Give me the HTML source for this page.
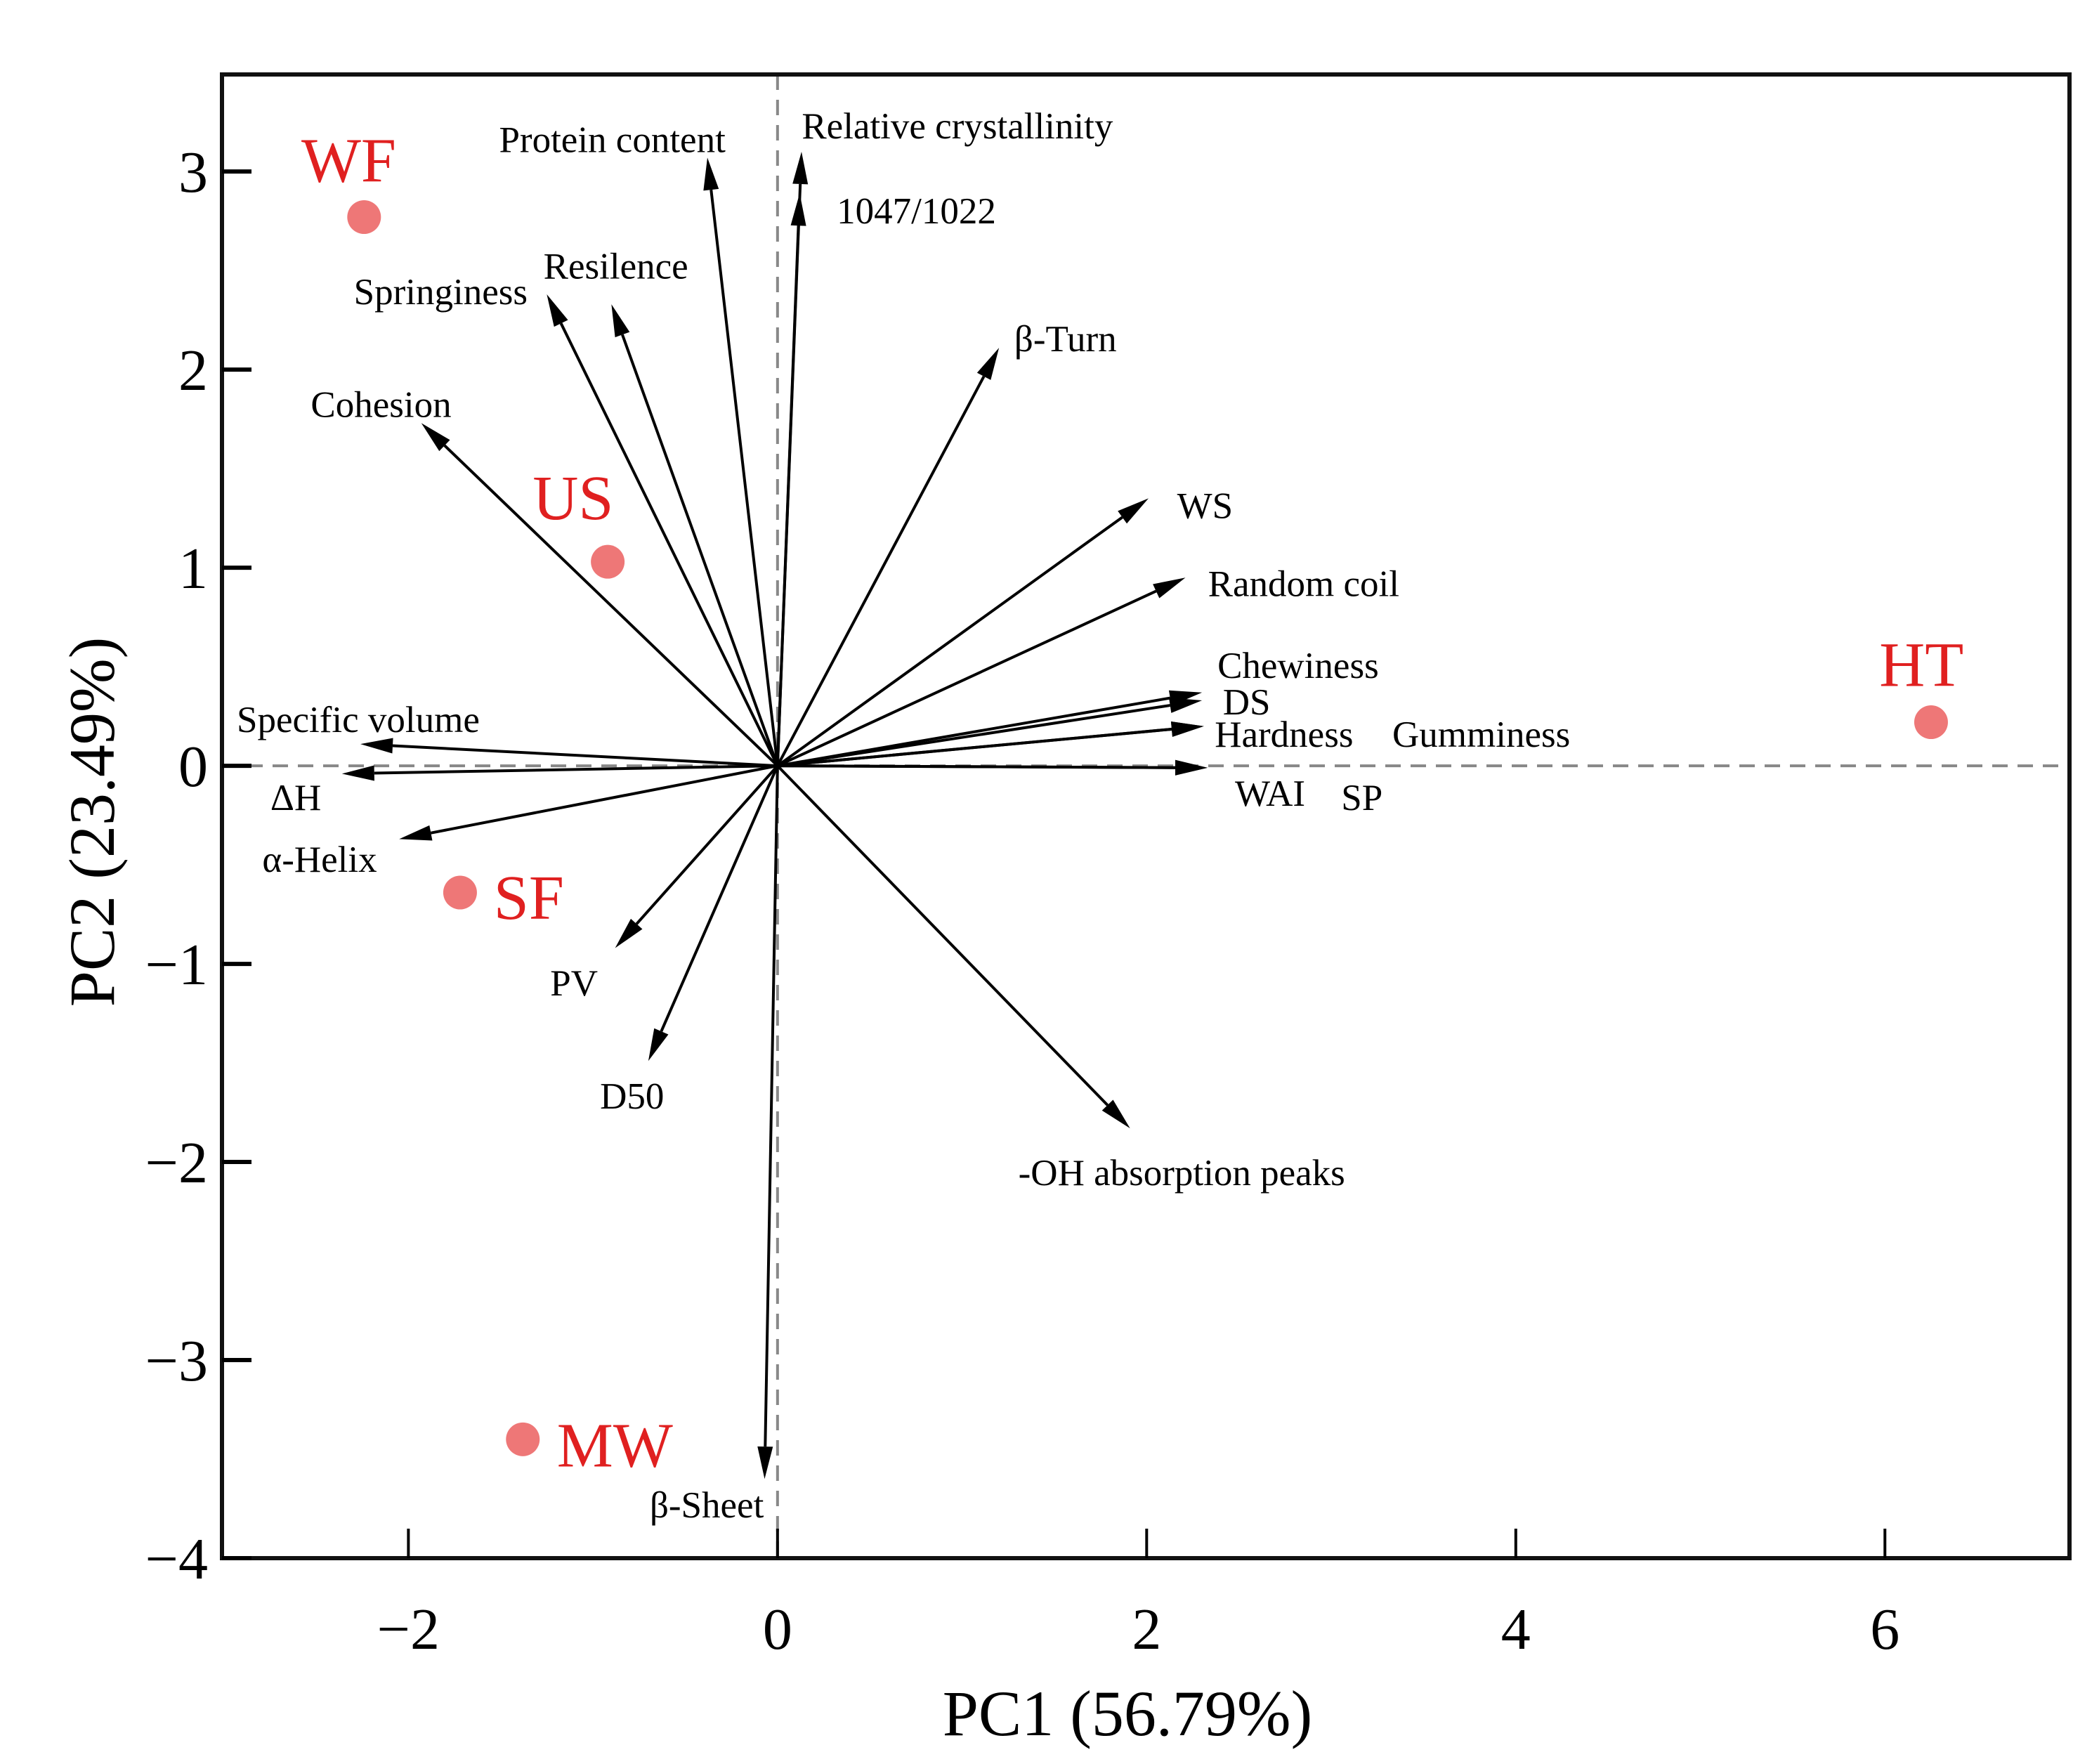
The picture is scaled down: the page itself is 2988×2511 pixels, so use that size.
<!DOCTYPE html>
<html><head><meta charset="utf-8"><style>
html,body{margin:0;padding:0;background:#fff;}
svg{display:block;font-family:"Liberation Serif","DejaVu Serif",serif;}
</style></head><body>
<svg id="chart" width="2988" height="2511" viewBox="0 0 2988 2511" xmlns="http://www.w3.org/2000/svg">
<g id="grid"></g>
</svg>
<script>
// ----- data -----
const sampleNames = ["WF","US","SF","MW","HT"];
const samplePC1 = [-2.24,-0.92,-1.72,-1.38,6.25];
const samplePC2 = [2.77,1.03,-0.64,-3.40,0.22];
const varNames = ["Protein content","Relative crystallinity","1047/1022","Springiness","Resilence","β-Turn","Cohesion","WS","Random coil","Chewiness","DS","Hardness","Gumminess","WAI","SP","Specific volume","ΔH","α-Helix","PV","D50","-OH absorption peaks","β-Sheet"];
const varPC1 = [-0.38,0.13,0.12,-1.25,-0.90,1.20,-1.93,2.01,2.21,2.30,2.30,2.31,2.31,2.33,2.33,-2.26,-2.36,-2.05,-0.88,-0.70,1.91,-0.07];
const varPC2 = [3.07,3.10,2.89,2.38,2.33,2.11,1.73,1.35,0.95,0.37,0.33,0.20,0.20,-0.01,-0.01,0.11,-0.04,-0.37,-0.92,-1.49,-1.83,-3.60];
const xTicks = [-2,0,2,4,6];
const yTicks = [-4,-3,-2,-1,0,1,2,3];

// ----- layout -----
const L=316,R=2946,T=106,B=2218;
const xMin=-3.01,xMax=7.0,yMin=-4,yMax=3.49;
const sx=v=>L+(v-xMin)/(xMax-xMin)*(R-L);
const sy=v=>B-(v-yMin)/(yMax-yMin)*(B-T);
const S=1.915;
const varLabelPos=[[371,113],[596,103],[622,166],[263,226],[404,207],[754,261],[231,310],[875,385],[898,443],[905,504],[909,531],[903,555],[1035,555],[918,599],[997,602],[176,544],[201,602],[195,648],[409,740],[446,824],[757,881],[483,1128]];
const sampleLabelPos=[[224,135],[396,386],[367,683],[414,1090],[1397,510]];

const NS="http://www.w3.org/2000/svg";
const svg=document.getElementById('chart');
function mk(tag,attrs,parent){const e=document.createElementNS(NS,tag);for(const k in attrs)e.setAttribute(k,attrs[k]);(parent||svg).appendChild(e);return e;}

let e=mk('line',{x1:sx(0),x2:sx(0),y1:T,y2:B,stroke:'#888','stroke-width':4,'stroke-dasharray':'22,14'});


e=mk('line',{x1:L,x2:R,y1:sy(0),y2:sy(0),stroke:'#888','stroke-width':4,'stroke-dasharray':'22,14'});



e=mk('rect',{x:L,y:T,width:R-L,height:B-T,fill:'none',stroke:'#111','stroke-width':6});



xTicks.forEach(t=>{
  let l=mk('line',{x1:sx(t),x2:sx(t),y1:B,y2:B-42,stroke:'#000','stroke-width':4});
  
  
  let tx=mk('text',{x:sx(t),y:2347,'font-size':84,'text-anchor':'middle',fill:'#000'});
  tx.textContent=t<0?'\u2212'+Math.abs(t):String(t);
  
  
});
yTicks.forEach(t=>{
  let l=mk('line',{x1:L,x2:L+42,y1:sy(t),y2:sy(t),stroke:'#000','stroke-width':6});
  
  
  let tx=mk('text',{x:296,y:sy(t)+29,'font-size':84,'text-anchor':'end',fill:'#000'});
  tx.textContent=t<0?'\u2212'+Math.abs(t):String(t);
  
  
});

e=mk('text',{x:1605,y:2470,'font-size':92,'text-anchor':'middle',fill:'#000'});
e.textContent='PC1 (56.79%)';


e=mk('text',{x:0,y:0,'font-size':92,'text-anchor':'middle',fill:'#000',transform:'translate(162,1170) rotate(-90)'});
e.textContent='PC2 (23.49%)';



const ox=sx(0),oy=sy(0);
varNames.forEach((n,i)=>{
  const x2=sx(varPC1[i]),y2=sy(varPC2[i]);
  const dx=x2-ox,dy=y2-oy,len=Math.hypot(dx,dy),ux=dx/len,uy=dy/len;
  const hl=46,hw=11;
  const bx=x2-ux*hl,by=y2-uy*hl;
  const g=mk('g',{});
  
  
  mk('line',{x1:ox,y1:oy,x2:bx,y2:by,stroke:'#000','stroke-width':4},g);
  mk('polygon',{points:`${x2},${y2} ${bx-uy*hw},${by+ux*hw} ${bx+uy*hw},${by-ux*hw}`,fill:'#000'},g);
  const t=mk('text',{x:varLabelPos[i][0]*S,y:varLabelPos[i][1]*S,'font-size':53,fill:'#000'});
  t.textContent=n;
  
  
});

sampleNames.forEach((n,i)=>{
  const c=mk('circle',{cx:sx(samplePC1[i]),cy:sy(samplePC2[i]),r:24,fill:'#ee7777'});
  
  
  const t=mk('text',{x:sampleLabelPos[i][0]*S,y:sampleLabelPos[i][1]*S,'font-size':90,fill:'#e02020'});
  t.textContent=n;
  
  
});
</script>
</body></html>
